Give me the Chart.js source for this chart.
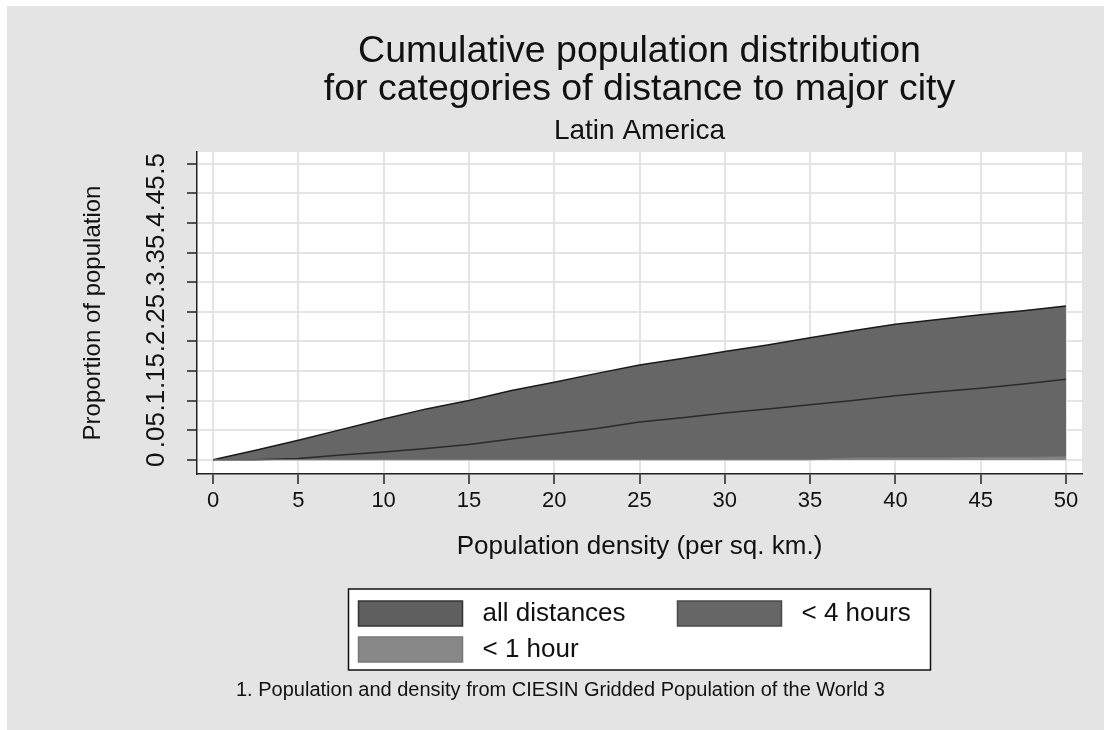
<!DOCTYPE html>
<html>
<head>
<meta charset="utf-8">
<script src="https://cdn.jsdelivr.net/npm/chart.js@4"></script>
<style>
  html, body { margin: 0; padding: 0; background: #fff; }
  #wrap { position: absolute; left: 7px; top: 6px; width: 1097px; height: 724px; background: #e4e4e4; }
  canvas { display: block; }
</style>
</head>
<body>
<div id="wrap"><canvas id="chart" width="1097" height="724"></canvas></div>
<script>
// values
const density = [0, 2.5, 5, 7.5, 10, 12.5, 15, 17.5, 20, 22.5, 25, 27.5, 30, 32.5, 35, 37.5, 40, 42.5, 45, 47.5, 50];
const allDistances = [0, 0.016, 0.033, 0.051, 0.069, 0.086, 0.100, 0.117, 0.131, 0.146, 0.160, 0.171, 0.183, 0.194, 0.206, 0.218, 0.229, 0.237, 0.245, 0.252, 0.260];
const under4Hours = [0, 0, 0.002, 0.008, 0.013, 0.019, 0.026, 0.035, 0.044, 0.053, 0.064, 0.071, 0.079, 0.086, 0.093, 0.100, 0.108, 0.115, 0.121, 0.128, 0.136];
const under1Hour = [0, 0, 0, 0, 0, 0, 0, 0, 0, 0, 0, 0, 0, 0, 0, 0.003, 0.003, 0.003, 0.004, 0.004, 0.005];

const seriesNames = ['all distances', '< 4 hours', '< 1 hour'];
const xTicks = [0, 5, 10, 15, 20, 25, 30, 35, 40, 45, 50];
const yTicks = [0, 0.05, 0.1, 0.15, 0.2, 0.25, 0.3, 0.35, 0.4, 0.45, 0.5];
const yTickLabels = ['0', '.05', '.1', '.15', '.2', '.25', '.3', '.35', '.4', '.45', '.5'];
const noteText = '1. Population and density from CIESIN Gridded Population of the World 3';

const FONT = '"Liberation Sans", Arial, sans-serif';
const INK = '#111';

function pairs(ys) {
  return density.map((x, i) => ({ x: x, y: ys[i] }));
}

// white plot region behind the grid
const plotRegion = {
  id: 'plotRegion',
  beforeDraw(chart) {
    const a = chart.chartArea;
    chart.ctx.save();
    chart.ctx.fillStyle = '#fff';
    chart.ctx.fillRect(a.left, a.top, a.right - a.left, a.bottom - a.top);
    chart.ctx.restore();
  }
};

// legend in a framed box, second row lined up under the first column
const legendBox = {
  id: 'legendBox',
  afterDraw(chart) {
    const ctx = chart.ctx;
    const a = chart.chartArea;
    const cx = (a.left + a.right) / 2;
    const left = cx - 291, top = a.bottom + 115;
    ctx.save();
    ctx.fillStyle = '#fff';
    ctx.fillRect(left, top, 582, 81);
    ctx.strokeStyle = INK;
    ctx.lineWidth = 1.5;
    ctx.strokeRect(left, top, 582, 81);
    ctx.font = '26px ' + FONT;
    ctx.textBaseline = 'middle';
    chart.data.datasets.forEach((ds, i) => {
      const col = i % 2, row = Math.floor(i / 2);
      const sx = left + 10 + col * 319;
      const sy = top + 12 + row * 36;
      ctx.fillStyle = ds.swatch;
      ctx.fillRect(sx, sy, 104, 25);
      ctx.strokeStyle = ds.swatchBorder;
      ctx.lineWidth = 1.5;
      ctx.strokeRect(sx, sy, 104, 25);
      ctx.fillStyle = INK;
      ctx.fillText(ds.label, sx + 124, sy + 13);
    });
    // footnote
    ctx.font = '20px ' + FONT;
    ctx.fillText(noteText, a.left + 39, a.bottom + 216);
    ctx.restore();
  }
};

const gridOpts = {
  color: '#e4e4e4',
  lineWidth: 2,
  tickColor: '#222',
  tickLength: 10,
  tickWidth: 1.5
};

new Chart(document.getElementById('chart').getContext('2d'), {
  type: 'line',
  data: {
    datasets: [
      {
        label: seriesNames[0],
        data: pairs(allDistances),
        order: 3,
        fill: 'origin',
        backgroundColor: '#666666',
        borderColor: '#1a1a1a',
        borderWidth: 1.5,
        swatch: '#5f5f5f',
        swatchBorder: '#333'
      },
      {
        label: seriesNames[1],
        data: pairs(under4Hours),
        order: 2,
        fill: 'origin',
        backgroundColor: '#666666',
        borderColor: '#2a2a2a',
        borderWidth: 1.5,
        swatch: '#666666',
        swatchBorder: '#4a4a4a'
      },
      {
        label: seriesNames[2],
        data: pairs(under1Hour),
        order: 1,
        fill: 'origin',
        backgroundColor: '#888888',
        borderColor: '#7a7a7a',
        borderWidth: 1,
        swatch: '#888888',
        swatchBorder: '#777'
      }
    ]
  },
  options: {
    responsive: false,
    animation: false,
    devicePixelRatio: 1,
    elements: { point: { radius: 0 }, line: { tension: 0 } },
    layout: { padding: { left: 0, right: 22, top: 0, bottom: 166 } },
    plugins: {
      legend: { display: false },
      tooltip: { enabled: false },
      title: {
        display: true,
        fullSize: false,
        text: ['Cumulative population distribution', 'for categories of distance to major city'],
        color: INK,
        font: { family: FONT, size: 37.5, weight: 'normal', lineHeight: 38 / 37.5 },
        padding: { top: 27, bottom: 0 }
      },
      subtitle: {
        display: true,
        fullSize: false,
        text: 'Latin America',
        color: INK,
        font: { family: FONT, size: 28, weight: 'normal', lineHeight: 1.2 },
        padding: { top: 5, bottom: 4.4 }
      }
    },
    scales: {
      x: {
        type: 'linear',
        min: -0.94,
        max: 50.94,
        afterBuildTicks: s => { s.ticks = xTicks.map(v => ({ value: v })); },
        afterFit: s => { s.height = 90; },
        grid: gridOpts,
        border: { display: true, color: '#222', width: 1.5 },
        ticks: { autoSkip: false, maxRotation: 0, padding: 4, color: INK, font: { family: FONT, size: 22 } },
        title: {
          display: true,
          text: 'Population density (per sq. km.)',
          color: INK,
          font: { family: FONT, size: 26 },
          padding: { top: 0, bottom: 2 }
        }
      },
      y: {
        type: 'linear',
        min: -0.024,
        max: 0.52,
        afterBuildTicks: s => { s.ticks = yTicks.map(v => ({ value: v })); },
        afterFit: s => { s.width = 190; },
        grid: gridOpts,
        border: { display: true, color: '#222', width: 1.5 },
        ticks: {
          autoSkip: false,
          minRotation: 90,
          maxRotation: 90,
          crossAlign: 'center',
          padding: 12,
          color: INK,
          font: { family: FONT, size: 26 },
          callback: (v, i) => yTickLabels[i]
        },
        title: {
          display: true,
          text: 'Proportion of population',
          color: INK,
          font: { family: FONT, size: 24 },
          padding: { top: 72, bottom: 0 }
        }
      }
    }
  },
  plugins: [plotRegion, legendBox]
});
</script>
</body>
</html>
